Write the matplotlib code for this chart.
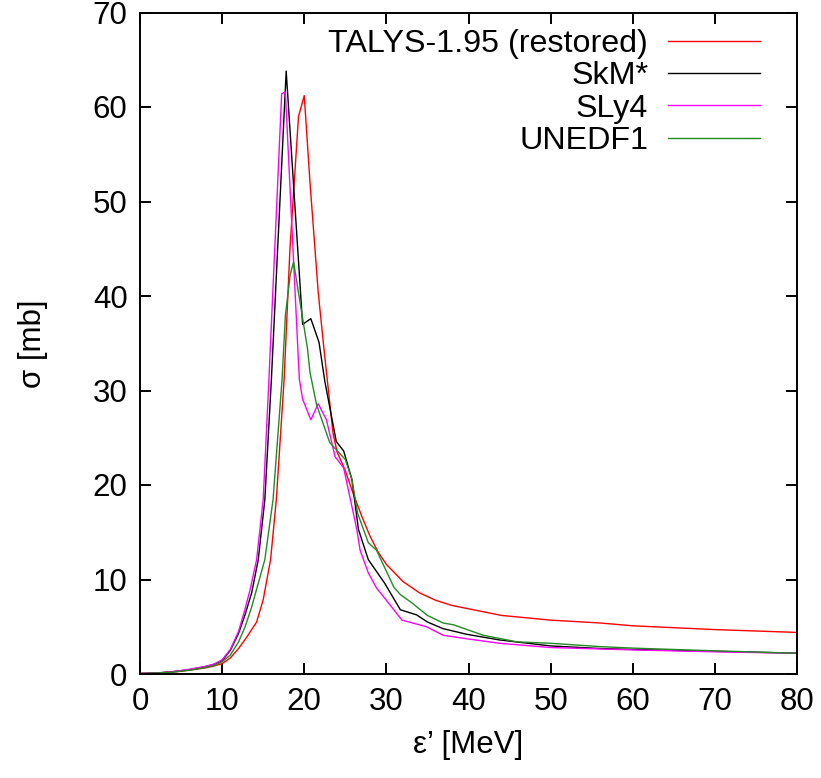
import matplotlib
matplotlib.use('Agg')
import matplotlib.pyplot as plt

plt.rcParams['font.family'] = ['Liberation Sans', 'DejaVu Sans']

# TALYS-1.95 (restored)
e_talys = [0, 2, 4, 6, 8, 9, 10, 11, 12, 13, 14.2, 15, 15.9, 16.6, 17.55, 18.26,
           19.3, 20, 20.7, 21.7, 22.4, 23.5, 24, 25, 26, 27, 28, 29, 30, 32, 34,
           36, 38, 40, 44, 50, 56, 60, 70, 80]
s_talys = [0.05, 0.1, 0.2, 0.4, 0.65, 0.85, 1.1, 1.7, 2.7, 3.9, 5.5, 7.85, 12.1, 18.45,
           31.2, 45, 59, 61.2, 52, 40.4, 34.4, 25.5, 23.5, 21.5, 19, 16.7, 14.6,
           12.9, 11.6, 9.8, 8.6, 7.8, 7.25, 6.9, 6.2, 5.7, 5.4, 5.1, 4.7, 4.4]

# SkM*
e_skm = [0, 2, 4, 6, 8, 9, 10, 11, 12, 12.8, 13.6, 14.4, 15.2, 16.0, 17.8, 19.8, 20.8,
         21.8, 22.5, 23.9, 24.8, 25.8, 26.6, 27.8, 29.8, 31.7, 33.7, 35, 36.9, 39.8, 43.8,
         50, 56, 60, 70, 80]
s_skm = [0.05, 0.1, 0.25, 0.45, 0.8, 1.0, 1.4, 2.5, 4.3, 6.3, 8.6, 12.1, 18.45, 31.2,
         63.8, 37.0, 37.6, 35.1, 31, 24.6, 23.6, 20.6, 15.3, 12.1, 9.6, 6.8, 6.25, 5.5,
         4.8, 4.2, 3.6, 2.97, 2.7, 2.6, 2.4, 2.2]

# SLy4
e_sly4 = [0, 2, 4, 6, 8, 9, 10, 11, 12, 12.7, 13.4, 14.2, 15.0, 15.7, 17.25, 17.7,
          19.4, 19.8, 20.8, 21.7, 22.7, 23.75, 24.8, 26.4, 26.8, 27.8, 28.8, 30, 31.9,
          34.9, 36.9, 40, 43.8, 50, 56, 60, 70, 80]
s_sly4 = [0.05, 0.1, 0.25, 0.5, 0.8, 1.05, 1.5, 2.6, 4.5, 6.6, 8.9, 12.1, 18.45, 31.2,
          61.4, 61.6, 31.2, 29.1, 26.9, 28.6, 26.9, 23.0, 21.8, 15.3, 13.1, 10.7, 9.1,
          7.8, 5.7, 5.0, 4.1, 3.7, 3.25, 2.8, 2.65, 2.55, 2.35, 2.2]

# UNEDF1
e_unedf1 = [0, 2, 4, 6, 8, 9, 10, 11, 12, 12.8, 13.6, 15.2, 16.2, 17.3, 17.7, 18.3,
            18.7, 20.4, 20.7, 21.5, 23.1, 25, 25.8, 26.5, 27.8, 28.8, 30.9,
            31.7, 33, 35, 36.9, 38.2, 41.8, 45.9, 50, 56, 60, 70, 80]
s_unedf1 = [0.05, 0.1, 0.2, 0.4, 0.7, 0.9, 1.3, 2.0, 3.4, 5.0, 7.1, 12.1, 18.45, 31.2,
            37.9, 42.3, 43.6, 34.4, 31.9, 28.5, 24.5, 22.7, 20.6, 17, 13.9, 13.1, 9.2,
            8.4, 7.6, 6.2, 5.4, 5.2, 4.1, 3.4, 3.25, 2.9, 2.74, 2.45, 2.2]

fig = plt.figure(figsize=(8.21, 7.78), dpi=100)
ax = fig.add_axes([140 / 821, 104 / 778, 657 / 821, 661.5 / 778])

ax.plot(e_talys, s_talys, color='#ff0000', lw=1.0, label='TALYS-1.95 (restored)')
ax.plot(e_skm, s_skm, color='black', lw=1.0, label='SkM*')
ax.plot(e_sly4, s_sly4, color='#ff00ff', lw=1.0, label='SLy4')
ax.plot(e_unedf1, s_unedf1, color='#228b22', lw=1.0, label='UNEDF1')

ax.set_xlim(0, 80)
ax.set_ylim(0, 70)
ax.set_xticks(range(0, 81, 10))
ax.set_yticks(range(0, 71, 10))
ax.tick_params(direction='in', top=True, right=True, length=8, width=1.4,
               labelsize=22.5, pad=9)
for sp in ax.spines.values():
    sp.set_linewidth(1.4)

ax.set_xlabel('ε’ [MeV]', fontsize=22.5, labelpad=10)
ax.set_ylabel('σ [mb]', fontsize=22.5, labelpad=32)

ax.legend(loc='upper right', bbox_to_anchor=(620 / 657, 0.975), frameon=False,
          markerfirst=False, fontsize=23.2, handlelength=2.85, handletextpad=0.62,
          labelspacing=0.07, borderaxespad=0, borderpad=0)

fig.savefig('out.png', dpi=100)
